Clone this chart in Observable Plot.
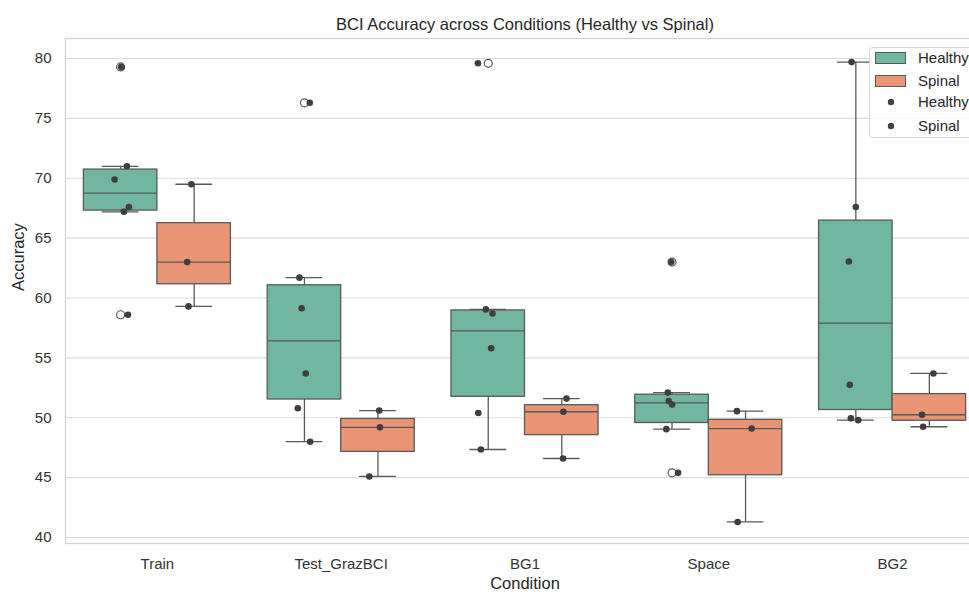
<!DOCTYPE html>
<html>
<head>
<meta charset="utf-8">
<script src="https://cdn.jsdelivr.net/npm/d3@7"></script>
<script src="https://cdn.jsdelivr.net/npm/@observablehq/plot@0.6"></script>
<style>
  html, body { margin: 0; padding: 0; background: #fff; overflow: hidden; }
  #wrap { position: relative; width: 969px; height: 592px; overflow: hidden; font-family: "Liberation Sans", Arial, sans-serif; }
  #legend { position: absolute; left: 869px; top: 47px; width: 130px; height: 91px; background: rgba(255,255,255,0.85);
            border: 1px solid #d4d4d4; border-radius: 4px; box-sizing: border-box; }
  .row { position: absolute; left: 0; height: 20px; width: 130px; }
  .row svg { position: absolute; left: 0; top: 0; }
  .row span { position: absolute; left: 48px; top: 1px; font-size: 15px; line-height: 18px; color: #262626; }
</style>
</head>
<body>
<div id="wrap"></div>
<script>
// ---- data ----
const conditions = ["Train", "Test_GrazBCI", "BG1", "Space", "BG2"];
const groups = ["Healthy", "Spinal"];
const groupColors = ["#71b6a0", "#e99575"];
const yTicks = [40, 45, 50, 55, 60, 65, 70, 75, 80];

const healthyValues = [
  [79.3, 71.0, 69.9, 67.6, 67.2, 58.6],
  [76.3, 61.7, 59.15, 53.7, 50.8, 48.0],
  [79.6, 59.05, 58.7, 55.8, 50.4, 47.35],
  [63.0, 52.1, 51.4, 51.1, 49.05, 45.4],
  [79.7, 67.6, 63.05, 52.75, 49.95, 49.8]
];
const spinalValues = [
  [69.5, 63.0, 59.3],
  [50.6, 49.2, 45.1],
  [51.6, 50.5, 46.6],
  [50.55, 49.1, 41.3],
  [53.7, 50.25, 49.25]
];
// strip-plot jitter (fraction of one category)
const healthyJitter = [
  [0.003, 0.034, -0.033, 0.045, 0.018, 0.040],
  [0.029, -0.027, -0.015, 0.007, -0.036, 0.031],
  [-0.056, -0.013, 0.023, 0.016, -0.054, -0.040],
  [-0.004, -0.023, -0.018, 0.000, -0.031, 0.033],
  [-0.023, 0.000, -0.038, -0.033, -0.027, 0.013]
];
const spinalJitter = [
  [-0.015, -0.038, -0.031],
  [0.007, 0.011, -0.047],
  [0.026, 0.009, 0.007],
  [-0.047, 0.033, -0.043],
  [0.022, -0.040, -0.034]
];

const title = "BCI Accuracy across Conditions (Healthy vs Spinal)";
const xLabel = "Condition";
const yLabel = "Accuracy";

// ---- build box statistics ----
const groupValues = [healthyValues, spinalValues];
const groupJitter = [healthyJitter, spinalJitter];
const dodge = [-0.2, 0.2];
const boxes = [], points = [];
conditions.forEach((c, i) => {
  groups.forEach((g, k) => {
    const vals = groupValues[k][i];
    const s = vals.slice().sort(d3.ascending);
    const q1 = d3.quantileSorted(s, 0.25), med = d3.quantileSorted(s, 0.5), q3 = d3.quantileSorted(s, 0.75);
    const iqr = q3 - q1;
    const lo = d3.min(s.filter(v => v >= q1 - 1.5 * iqr));
    const hi = d3.max(s.filter(v => v <= q3 + 1.5 * iqr));
    const cx = i + dodge[k];
    boxes.push({cond: c, group: g, cx, x1: cx - 0.2, x2: cx + 0.2, c1: cx - 0.1, c2: cx + 0.1, q1, med, q3, lo, hi});
    vals.forEach((v, j) => points.push({group: g, cx, x: cx + groupJitter[k][i][j], y: v, outlier: v < lo || v > hi}));
  });
});

const edge = "#595959";
const chart = Plot.plot({
  width: 969,
  height: 592,
  marginLeft: 65,
  marginRight: -15,
  marginTop: 38,
  marginBottom: 49,
  style: {fontFamily: "'Liberation Sans', Arial, sans-serif", fontSize: "15px", color: "#333", background: "white", overflow: "hidden"},
  x: {domain: [-0.5, 4.5], range: [65, 984]},
  y: {domain: [39.5, 81.67]},
  color: {domain: groups, range: groupColors},
  marks: [
    Plot.gridY(yTicks, {stroke: "#dcdcdc", strokeOpacity: 1, strokeWidth: 1.2}),
    Plot.frame({stroke: "#d2d2d2", strokeWidth: 1.3}),
    Plot.ruleX(boxes, {x: "cx", y1: "q3", y2: "hi", stroke: edge, strokeWidth: 1.3}),
    Plot.ruleX(boxes, {x: "cx", y1: "q1", y2: "lo", stroke: edge, strokeWidth: 1.3}),
    Plot.ruleY(boxes, {y: "hi", x1: "c1", x2: "c2", stroke: edge, strokeWidth: 1.3}),
    Plot.ruleY(boxes, {y: "lo", x1: "c1", x2: "c2", stroke: edge, strokeWidth: 1.3}),
    Plot.rect(boxes, {x1: "x1", x2: "x2", y1: "q1", y2: "q3", fill: "group", stroke: edge, strokeWidth: 1.3}),
    Plot.ruleY(boxes, {y: "med", x1: "x1", x2: "x2", stroke: edge, strokeWidth: 1.3}),
    Plot.dot(points.filter(d => d.outlier), {x: "cx", y: "y", r: 4, stroke: edge, fill: "none", strokeWidth: 1.2}),
    Plot.dot(points, {x: "x", y: "y", r: 3.3, fill: "#3f3f3f", stroke: "none"}),
    Plot.axisY(yTicks, {tickSize: 0, tickPadding: 14, fontSize: 15, label: null}),
    Plot.axisX(d3.range(conditions.length), {tickFormat: i => conditions[i], tickSize: 0, tickPadding: 15, fontSize: 15, label: null}),
    Plot.text([title], {frameAnchor: "top", lineAnchor: "bottom", dy: -9, fontSize: 16.5, fill: "#262626"}),
    Plot.text([xLabel], {frameAnchor: "bottom", lineAnchor: "bottom", dy: 45, fontSize: 16.5, fill: "#262626"}),
    Plot.text([yLabel], {frameAnchor: "left", rotate: -90, dx: -47, fontSize: 16.5, fill: "#262626"})
  ]
});
const wrap = document.getElementById("wrap");
wrap.appendChild(chart);

// ---- legend ----
const legend = document.createElement("div");
legend.id = "legend";
const rowsTop = [0, 23, 44, 68];
const entries = [
  {label: groups[0], kind: "patch", color: groupColors[0]},
  {label: groups[1], kind: "patch", color: groupColors[1]},
  {label: groups[0], kind: "dot"},
  {label: groups[1], kind: "dot"}
];
entries.forEach((e, i) => {
  const row = document.createElement("div");
  row.className = "row";
  row.style.top = rowsTop[i] + "px";
  const sw = e.kind === "patch"
    ? `<svg width="40" height="20"><rect x="5.5" y="4.5" width="30" height="11" fill="${e.color}" stroke="${edge}" stroke-width="1"/></svg>`
    : `<svg width="40" height="20"><circle cx="21" cy="10" r="3.2" fill="#3f3f3f"/></svg>`;
  row.innerHTML = sw + `<span>${e.label}</span>`;
  legend.appendChild(row);
});
wrap.appendChild(legend);
</script>
</body>
</html>
